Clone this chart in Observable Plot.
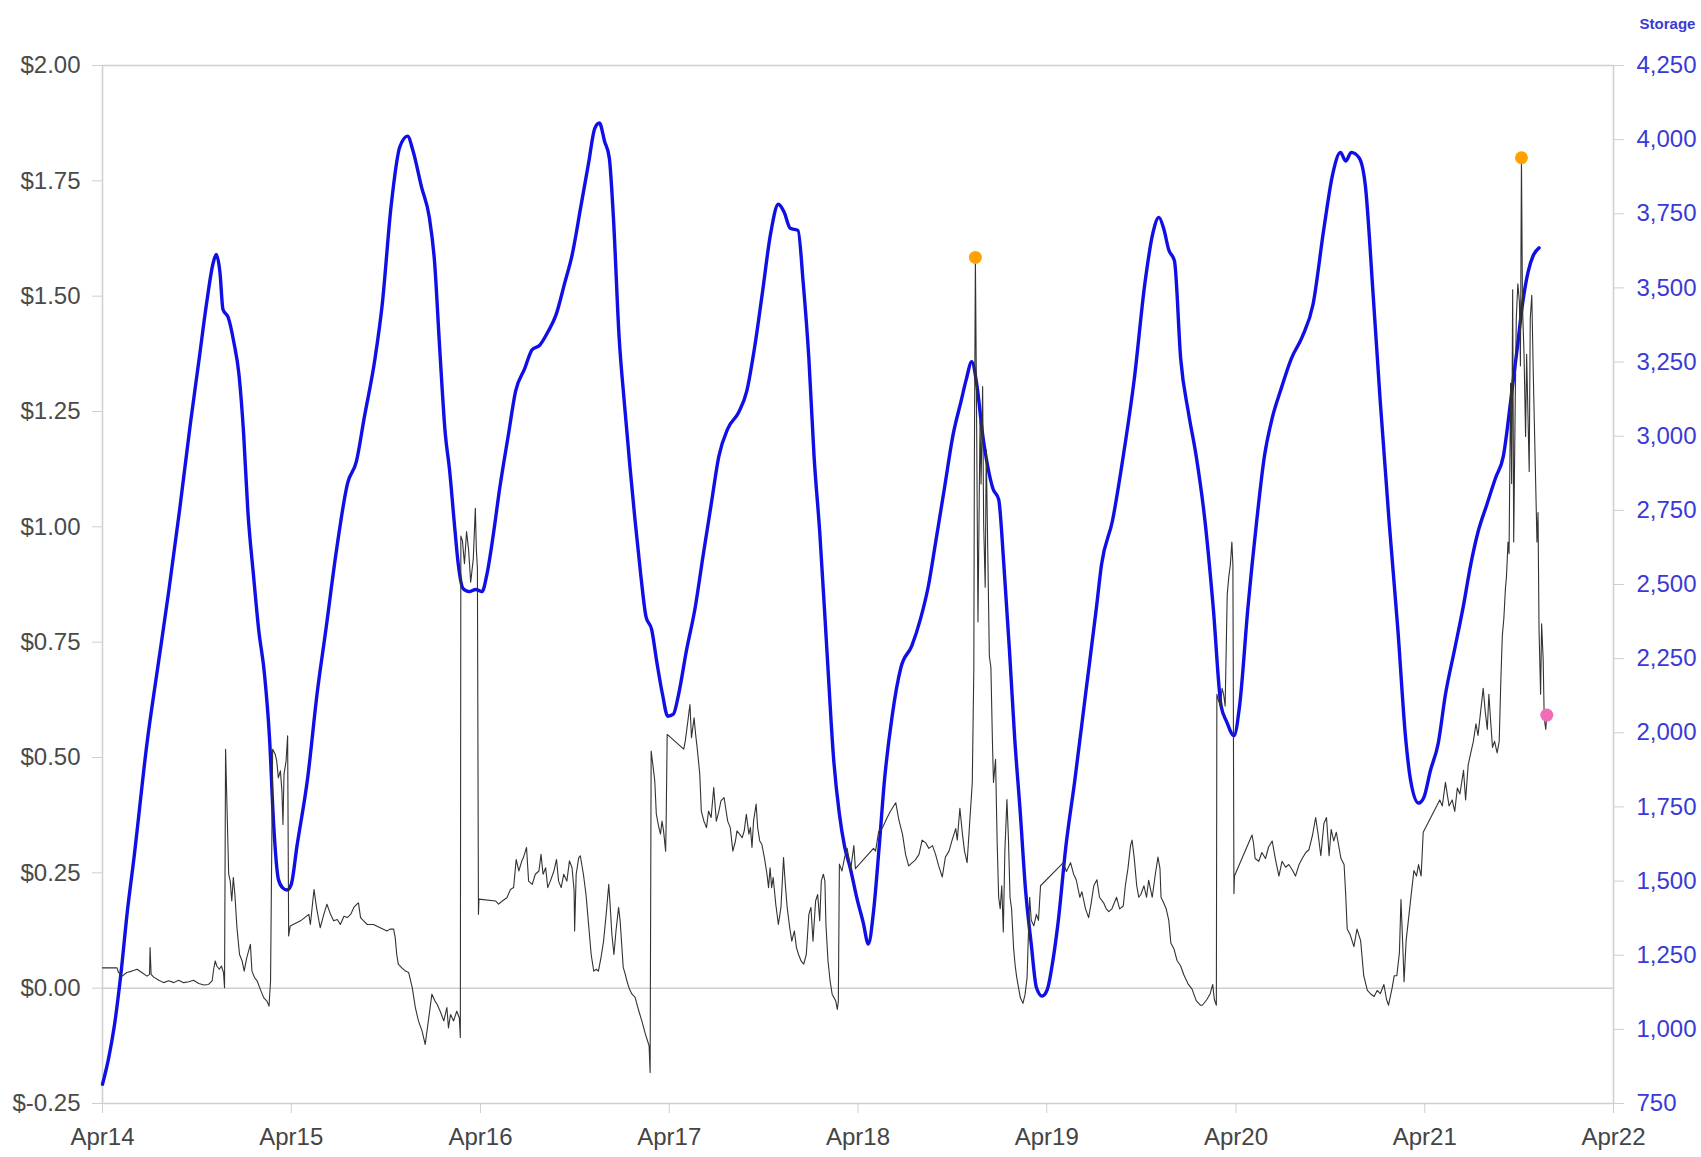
<!DOCTYPE html>
<html><head><meta charset="utf-8">
<script src="https://cdn.jsdelivr.net/npm/d3@7"></script>
<script src="https://cdn.jsdelivr.net/npm/@observablehq/plot@0.6"></script>
<style>body{margin:0;background:#fff;}#chart svg{display:block;}</style>
</head><body><div id="chart"></div>
<script>
// ---- data ----
const xTickDates = ["2014-04-01","2015-04-01","2016-04-01","2017-04-01","2018-04-01","2019-04-01","2020-04-01","2021-04-01","2022-04-01"];
const priceTicks = [-0.25,0,0.25,0.5,0.75,1,1.25,1.5,1.75,2];
const storageTicks = [750,1000,1250,1500,1750,2000,2250,2500,2750,3000,3250,3500,3750,4000,4250];
const priceDomain = [-0.25, 2];
const storageDomain = [750, 4250];
const storageTitle = "Storage";

const storageSeries = [["2014-04-01",815],["2014-04-13",904],["2014-04-24",1013],["2014-05-06",1178],["2014-05-19",1397],["2014-06-01",1580],["2014-06-26",1964],["2014-07-19",2246],["2014-08-07",2476],["2014-08-28",2750],["2014-09-18",3043],["2014-10-05",3262],["2014-10-19",3445],["2014-11-01",3584],["2014-11-07",3613],["2014-11-14",3555],["2014-11-20",3427],["2014-11-30",3401],["2014-12-11",3317],["2014-12-21",3207],["2014-12-30",3006],["2015-01-07",2750],["2015-01-18",2531],["2015-01-28",2348],["2015-02-08",2202],["2015-02-18",1982],["2015-02-26",1690],["2015-03-07",1507],["2015-03-15",1478],["2015-03-24",1470],["2015-04-01",1489],["2015-04-12",1617],["2015-05-03",1851],["2015-05-21",2132],["2015-06-07",2348],["2015-06-28",2622],["2015-07-19",2842],["2015-08-05",2915],["2015-08-20",3061],["2015-09-10",3262],["2015-09-24",3445],["2015-10-11",3774],["2015-10-28",3976],["2015-11-12",4012],["2015-11-22",3965],["2015-12-09",3840],["2015-12-24",3738],["2016-01-03",3591],["2016-01-13",3299],["2016-01-24",3006],["2016-02-01",2889],["2016-02-10",2714],["2016-02-18",2568],["2016-02-27",2487],["2016-03-10",2476],["2016-03-23",2483],["2016-04-04",2476],["2016-04-13",2531],["2016-04-25",2659],["2016-05-08",2823],["2016-05-25",3006],["2016-06-08",3153],["2016-06-25",3226],["2016-07-10",3292],["2016-07-24",3306],["2016-08-10",3354],["2016-08-25",3409],["2016-09-11",3518],["2016-09-25",3610],["2016-10-12",3774],["2016-10-27",3921],["2016-11-08",4038],["2016-11-17",4056],["2016-11-27",3994],["2016-12-06",3939],["2016-12-14",3738],["2016-12-25",3335],["2017-01-04",3116],["2017-01-15",2897],["2017-01-25",2714],["2017-02-05",2531],["2017-02-15",2392],["2017-02-26",2348],["2017-03-08",2238],["2017-03-19",2129],["2017-03-29",2056],["2017-04-09",2063],["2017-04-19",2129],["2017-05-04",2275],["2017-05-21",2421],["2017-06-06",2604],["2017-06-21",2769],["2017-07-06",2933],["2017-07-23",3025],["2017-08-13",3080],["2017-08-29",3153],["2017-09-13",3299],["2017-09-28",3482],["2017-10-14",3683],["2017-10-29",3782],["2017-11-09",3756],["2017-11-21",3701],["2017-12-06",3694],["2017-12-16",3518],["2017-12-27",3262],["2018-01-06",2933],["2018-01-17",2677],["2018-01-31",2275],["2018-02-13",1909],["2018-02-24",1726],["2018-03-06",1617],["2018-03-17",1544],["2018-03-31",1434],["2018-04-11",1361],["2018-04-21",1288],["2018-05-01",1397],["2018-05-12",1617],["2018-05-22",1836],["2018-06-06",2056],["2018-06-23",2220],["2018-07-14",2293],["2018-07-31",2385],["2018-08-15",2494],["2018-08-29",2641],["2018-09-15",2823],["2018-10-02",3006],["2018-10-17",3116],["2018-10-27",3189],["2018-11-07",3251],["2018-11-17",3171],["2018-11-28",3006],["2018-12-08",2897],["2018-12-18",2823],["2018-12-29",2787],["2019-01-08",2568],["2019-01-19",2275],["2019-01-29",1982],["2019-02-09",1726],["2019-02-19",1470],["2019-03-02",1288],["2019-03-12",1141],["2019-03-23",1112],["2019-04-02",1134],["2019-04-13",1233],["2019-04-23",1361],["2019-05-08",1617],["2019-05-25",1836],["2019-06-15",2129],["2019-07-06",2421],["2019-07-16",2568],["2019-08-06",2714],["2019-08-27",2933],["2019-09-17",3189],["2019-10-08",3518],["2019-10-23",3683],["2019-11-04",3738],["2019-11-13",3701],["2019-11-23",3628],["2019-12-04",3591],["2019-12-16",3262],["2019-12-31",3080],["2020-01-15",2933],["2020-02-01",2714],["2020-02-17",2421],["2020-03-03",2092],["2020-03-14",2037],["2020-03-28",1990],["2020-04-08",2092],["2020-04-24",2421],["2020-05-11",2714],["2020-05-26",2933],["2020-06-10",3061],["2020-06-26",3153],["2020-07-17",3262],["2020-08-07",3335],["2020-08-28",3445],["2020-09-18",3701],["2020-10-05",3884],["2020-10-20",3957],["2020-10-30",3928],["2020-11-10",3957],["2020-11-25",3939],["2020-12-07",3847],["2020-12-22",3482],["2021-01-05",3116],["2021-01-22",2714],["2021-02-08",2348],["2021-02-23",1982],["2021-03-05",1836],["2021-03-20",1763],["2021-03-30",1781],["2021-04-12",1873],["2021-04-27",1964],["2021-05-11",2129],["2021-05-28",2275],["2021-06-14",2421],["2021-06-29",2568],["2021-07-13",2677],["2021-07-30",2769],["2021-08-16",2860],["2021-08-31",2933],["2021-09-14",3116],["2021-09-27",3299],["2021-10-07",3445],["2021-10-18",3555],["2021-10-28",3610],["2021-11-08",3635]];

const spreadSeries = [["2014-04-01",0.044],["2014-04-29",0.044],["2014-05-02",0.034],["2014-05-09",0.026],["2014-05-18",0.034],["2014-05-28",0.037],["2014-06-07",0.041],["2014-06-16",0.034],["2014-06-26",0.026],["2014-07-01",0.030],["2014-07-02",0.088],["2014-07-04",0.030],["2014-07-09",0.024],["2014-07-19",0.017],["2014-07-28",0.012],["2014-08-07",0.016],["2014-08-17",0.012],["2014-08-26",0.017],["2014-09-05",0.012],["2014-09-15",0.014],["2014-09-24",0.017],["2014-10-04",0.010],["2014-10-14",0.007],["2014-10-23",0.008],["2014-10-30",0.016],["2014-11-02",0.041],["2014-11-05",0.059],["2014-11-08",0.048],["2014-11-13",0.041],["2014-11-17",0.048],["2014-11-21",0.034],["2014-11-23",0.001],["2014-11-25",0.518],["2014-12-01",0.247],["2014-12-04",0.232],["2014-12-07",0.189],["2014-12-10",0.240],["2014-12-13",0.203],["2014-12-17",0.131],["2014-12-22",0.073],["2014-12-27",0.059],["2014-12-31",0.037],["2015-01-05",0.066],["2015-01-12",0.095],["2015-01-15",0.037],["2015-01-20",0.023],["2015-01-25",0.016],["2015-01-31",-0.002],["2015-02-07",-0.021],["2015-02-13",-0.028],["2015-02-17",-0.039],["2015-02-20",0.016],["2015-02-24",0.518],["2015-03-01",0.507],["2015-03-04",0.492],["2015-03-07",0.456],["2015-03-11",0.471],["2015-03-14",0.427],["2015-03-16",0.355],["2015-03-18",0.464],["2015-03-22",0.492],["2015-03-25",0.547],["2015-03-27",0.113],["2015-03-30",0.135],["2015-04-19",0.146],["2015-05-05",0.160],["2015-05-08",0.138],["2015-05-15",0.214],["2015-05-20",0.174],["2015-05-27",0.131],["2015-06-03",0.160],["2015-06-09",0.182],["2015-06-16",0.160],["2015-06-22",0.146],["2015-06-29",0.149],["2015-07-05",0.138],["2015-07-12",0.156],["2015-07-18",0.153],["2015-07-25",0.160],["2015-07-31",0.175],["2015-08-06",0.182],["2015-08-09",0.185],["2015-08-13",0.153],["2015-08-19",0.146],["2015-08-26",0.138],["2015-09-07",0.138],["2015-09-20",0.131],["2015-10-03",0.124],["2015-10-09",0.128],["2015-10-16",0.128],["2015-10-19",0.110],["2015-10-22",0.073],["2015-10-25",0.052],["2015-11-01",0.044],["2015-11-08",0.037],["2015-11-14",0.034],["2015-11-21",0.001],["2015-11-27",-0.042],["2015-12-03",-0.071],["2015-12-10",-0.093],["2015-12-16",-0.122],["2015-12-23",-0.064],["2015-12-29",-0.013],["2016-01-04",-0.028],["2016-01-08",-0.035],["2016-01-14",-0.050],["2016-01-21",-0.071],["2016-01-27",-0.042],["2016-01-30",-0.086],["2016-02-03",-0.057],["2016-02-09",-0.071],["2016-02-15",-0.050],["2016-02-20",-0.064],["2016-02-22",-0.107],["2016-02-23",0.98],["2016-02-26",0.97],["2016-03-01",0.92],["2016-03-05",0.99],["2016-03-09",0.95],["2016-03-13",0.88],["2016-03-18",0.93],["2016-03-22",1.04],["2016-03-24",0.95],["2016-03-26",0.91],["2016-03-28",0.160],["2016-03-29",0.193],["2016-04-30",0.189],["2016-05-06",0.182],["2016-05-13",0.189],["2016-05-22",0.196],["2016-05-29",0.214],["2016-06-04",0.218],["2016-06-09",0.279],["2016-06-14",0.254],["2016-06-20",0.276],["2016-06-23",0.283],["2016-06-29",0.305],["2016-07-03",0.232],["2016-07-10",0.225],["2016-07-16",0.247],["2016-07-23",0.254],["2016-07-27",0.290],["2016-07-31",0.247],["2016-08-05",0.261],["2016-08-09",0.218],["2016-08-14",0.232],["2016-08-21",0.254],["2016-08-26",0.279],["2016-08-30",0.232],["2016-09-04",0.218],["2016-09-09",0.247],["2016-09-15",0.232],["2016-09-20",0.276],["2016-09-25",0.261],["2016-09-29",0.211],["2016-09-30",0.124],["2016-10-03",0.247],["2016-10-08",0.283],["2016-10-11",0.287],["2016-10-17",0.247],["2016-10-22",0.203],["2016-10-27",0.138],["2016-11-01",0.073],["2016-11-06",0.037],["2016-11-11",0.041],["2016-11-15",0.037],["2016-11-20",0.066],["2016-11-25",0.102],["2016-11-30",0.160],["2016-12-05",0.225],["2016-12-08",0.175],["2016-12-11",0.117],["2016-12-15",0.073],["2016-12-19",0.124],["2016-12-24",0.175],["2016-12-27",0.146],["2017-01-02",0.045],["2017-01-06",0.030],["2017-01-09",0.016],["2017-01-14",-0.002],["2017-01-19",-0.013],["2017-01-25",-0.020],["2017-02-01",-0.049],["2017-02-07",-0.071],["2017-02-14",-0.100],["2017-02-18",-0.114],["2017-02-21",-0.125],["2017-02-23",-0.183],["2017-02-25",0.514],["2017-03-01",0.478],["2017-03-04",0.449],["2017-03-07",0.377],["2017-03-12",0.348],["2017-03-15",0.334],["2017-03-18",0.362],["2017-03-21",0.341],["2017-03-25",0.297],["2017-03-26",0.359],["2017-03-28",0.550],["2017-04-29",0.518],["2017-05-02",0.536],["2017-05-07",0.579],["2017-05-11",0.615],["2017-05-14",0.543],["2017-05-19",0.586],["2017-05-22",0.550],["2017-05-25",0.521],["2017-05-30",0.464],["2017-06-02",0.384],["2017-06-07",0.362],["2017-06-12",0.348],["2017-06-16",0.384],["2017-06-21",0.370],["2017-06-26",0.435],["2017-07-01",0.362],["2017-07-06",0.384],["2017-07-10",0.406],["2017-07-16",0.413],["2017-07-19",0.391],["2017-07-23",0.362],["2017-07-28",0.348],["2017-08-02",0.297],["2017-08-07",0.319],["2017-08-10",0.341],["2017-08-15",0.334],["2017-08-20",0.326],["2017-08-24",0.341],["2017-08-28",0.377],["2017-09-02",0.334],["2017-09-05",0.348],["2017-09-08",0.305],["2017-09-11",0.362],["2017-09-16",0.399],["2017-09-19",0.348],["2017-09-23",0.319],["2017-09-27",0.312],["2017-10-02",0.283],["2017-10-07",0.247],["2017-10-10",0.218],["2017-10-13",0.261],["2017-10-16",0.218],["2017-10-19",0.240],["2017-10-24",0.182],["2017-10-29",0.138],["2017-11-03",0.175],["2017-11-08",0.283],["2017-11-11",0.232],["2017-11-15",0.175],["2017-11-20",0.131],["2017-11-24",0.102],["2017-11-29",0.124],["2017-12-03",0.088],["2017-12-07",0.073],["2017-12-12",0.059],["2017-12-17",0.052],["2017-12-22",0.073],["2017-12-27",0.160],["2017-12-31",0.175],["2018-01-04",0.102],["2018-01-09",0.189],["2018-01-13",0.203],["2018-01-17",0.146],["2018-01-20",0.232],["2018-01-24",0.247],["2018-01-27",0.232],["2018-01-29",0.138],["2018-02-02",0.059],["2018-02-06",0.016],["2018-02-10",-0.013],["2018-02-17",-0.028],["2018-02-20",-0.046],["2018-02-22",-0.028],["2018-02-24",0.269],["2018-03-01",0.254],["2018-03-06",0.283],["2018-03-11",0.303],["2018-03-18",0.259],["2018-03-24",0.309],["2018-03-27",0.259],["2018-05-01",0.303],["2018-05-05",0.297],["2018-05-11",0.340],["2018-05-18",0.347],["2018-05-28",0.371],["2018-06-03",0.384],["2018-06-13",0.402],["2018-06-19",0.365],["2018-06-26",0.334],["2018-07-02",0.290],["2018-07-08",0.265],["2018-07-15",0.272],["2018-07-21",0.278],["2018-07-28",0.290],["2018-08-03",0.321],["2018-08-10",0.315],["2018-08-16",0.303],["2018-08-23",0.309],["2018-08-29",0.290],["2018-09-04",0.265],["2018-09-11",0.241],["2018-09-17",0.284],["2018-09-24",0.297],["2018-09-30",0.321],["2018-10-07",0.346],["2018-10-10",0.321],["2018-10-15",0.390],["2018-10-20",0.334],["2018-10-24",0.297],["2018-10-29",0.272],["2018-11-03",0.359],["2018-11-08",0.446],["2018-11-11",0.695],["2018-11-12",1.130],["2018-11-14",1.584],["2018-11-16",1.292],["2018-11-19",0.794],["2018-11-23",1.230],["2018-11-25",1.093],["2018-11-28",1.304],["2018-11-30",1.006],["2018-12-03",0.869],["2018-12-05",1.167],["2018-12-08",0.944],["2018-12-11",0.720],["2018-12-14",0.695],["2018-12-17",0.533],["2018-12-19",0.446],["2018-12-23",0.496],["2018-12-26",0.321],["2018-12-29",0.197],["2019-01-01",0.172],["2019-01-04",0.222],["2019-01-07",0.122],["2019-01-10",0.297],["2019-01-14",0.409],["2019-01-17",0.321],["2019-01-20",0.197],["2019-01-23",0.172],["2019-01-27",0.085],["2019-01-30",0.048],["2019-02-02",0.023],["2019-02-09",-0.021],["2019-02-14",-0.033],["2019-02-18",-0.014],["2019-02-22",0.023],["2019-02-24",0.098],["2019-02-27",0.197],["2019-03-02",0.147],["2019-03-07",0.135],["2019-03-12",0.160],["2019-03-16",0.147],["2019-03-20",0.222],["2019-04-27",0.265],["2019-05-03",0.272],["2019-05-09",0.253],["2019-05-17",0.272],["2019-05-23",0.247],["2019-05-28",0.235],["2019-06-04",0.197],["2019-06-08",0.209],["2019-06-15",0.172],["2019-06-21",0.153],["2019-06-26",0.185],["2019-07-01",0.222],["2019-07-07",0.235],["2019-07-12",0.197],["2019-07-20",0.185],["2019-07-25",0.172],["2019-07-30",0.166],["2019-08-05",0.172],["2019-08-14",0.197],["2019-08-20",0.172],["2019-08-27",0.178],["2019-08-31",0.222],["2019-09-05",0.259],["2019-09-10",0.309],["2019-09-13",0.321],["2019-09-17",0.284],["2019-09-22",0.222],["2019-09-26",0.197],["2019-09-30",0.203],["2019-10-06",0.222],["2019-10-11",0.197],["2019-10-15",0.234],["2019-10-22",0.197],["2019-10-28",0.247],["2019-11-02",0.284],["2019-11-06",0.259],["2019-11-08",0.197],["2019-11-13",0.185],["2019-11-18",0.172],["2019-11-23",0.147],["2019-11-27",0.098],["2019-12-03",0.085],["2019-12-09",0.060],["2019-12-16",0.048],["2019-12-22",0.029],["2019-12-30",0.010],["2020-01-07",-0.002],["2020-01-15",-0.027],["2020-01-23",-0.037],["2020-01-27",-0.037],["2020-02-05",-0.024],["2020-02-11",-0.012],["2020-02-16",0.008],["2020-02-19",-0.024],["2020-02-23",-0.037],["2020-02-24",0.637],["2020-02-27",0.624],["2020-03-02",0.611],["2020-03-05",0.650],["2020-03-08",0.637],["2020-03-11",0.611],["2020-03-15",0.853],["2020-03-18",0.891],["2020-03-21",0.917],["2020-03-24",0.967],["2020-03-26",0.917],["2020-03-28",0.205],["2020-03-29",0.243],["2020-05-02",0.332],["2020-05-05",0.313],["2020-05-08",0.281],["2020-05-15",0.275],["2020-05-21",0.294],["2020-05-28",0.281],["2020-06-03",0.306],["2020-06-10",0.319],["2020-06-16",0.281],["2020-06-23",0.243],["2020-06-29",0.275],["2020-07-06",0.262],["2020-07-12",0.268],["2020-07-19",0.256],["2020-07-25",0.243],["2020-08-01",0.268],["2020-08-07",0.281],["2020-08-14",0.294],["2020-08-20",0.300],["2020-08-27",0.332],["2020-09-02",0.370],["2020-09-07",0.332],["2020-09-12",0.287],["2020-09-18",0.357],["2020-09-23",0.370],["2020-09-28",0.287],["2020-10-02",0.344],["2020-10-07",0.319],["2020-10-12",0.338],["2020-10-17",0.306],["2020-10-21",0.281],["2020-10-27",0.268],["2020-10-30",0.205],["2020-11-02",0.128],["2020-11-08",0.115],["2020-11-15",0.090],["2020-11-21",0.128],["2020-11-28",0.103],["2020-12-04",0.027],["2020-12-11",-0.005],["2020-12-17",-0.012],["2020-12-24",-0.018],["2020-12-30",-0.005],["2021-01-05",-0.012],["2021-01-12",0.008],["2021-01-17",-0.024],["2021-01-21",-0.037],["2021-01-28",0.001],["2021-02-01",0.027],["2021-02-06",0.027],["2021-02-11",0.077],["2021-02-14",0.192],["2021-02-18",0.077],["2021-02-20",0.014],["2021-02-24",0.103],["2021-03-01",0.154],["2021-03-06",0.205],["2021-03-11",0.255],["2021-03-16",0.243],["2021-03-20",0.268],["2021-03-25",0.243],["2021-03-29",0.338],["2021-04-30",0.408],["2021-05-05",0.395],["2021-05-11",0.446],["2021-05-18",0.395],["2021-05-24",0.408],["2021-05-29",0.383],["2021-06-03",0.434],["2021-06-08",0.421],["2021-06-15",0.472],["2021-06-19",0.408],["2021-06-24",0.484],["2021-06-29",0.510],["2021-07-04",0.535],["2021-07-09",0.573],["2021-07-13",0.548],["2021-07-18",0.599],["2021-07-23",0.650],["2021-07-27",0.599],["2021-07-31",0.561],["2021-08-03",0.637],["2021-08-06",0.586],["2021-08-10",0.522],["2021-08-14",0.535],["2021-08-19",0.510],["2021-08-23",0.535],["2021-08-26",0.662],["2021-08-29",0.764],["2021-09-01",0.802],["2021-09-04",0.866],["2021-09-06",0.891],["2021-09-09",0.967],["2021-09-11",0.942],["2021-09-14",1.311],["2021-09-16",1.094],["2021-09-18",1.514],["2021-09-20",0.967],["2021-09-23",1.273],["2021-09-25",1.451],["2021-09-28",1.527],["2021-10-01",1.489],["2021-10-03",1.349],["2021-10-05",1.800],["2021-10-07",1.476],["2021-10-10",1.374],["2021-10-13",1.196],["2021-10-15",1.374],["2021-10-17",1.273],["2021-10-20",1.120],["2021-10-22",1.451],["2021-10-25",1.502],["2021-10-28",1.324],["2021-10-30",1.222],["2021-11-02",1.069],["2021-11-04",0.967],["2021-11-06",1.031],["2021-11-08",0.777],["2021-11-11",0.637],["2021-11-13",0.790],["2021-11-16",0.713],["2021-11-18",0.586],["2021-11-21",0.561],["2021-11-23",0.592]];

const spikeDates = ["2018-11-14","2021-10-05"];
const spikeValues = [1.584, 1.800];

// ---- helpers ----
const parse = d3.utcParse("%Y-%m-%d");
const toPrice = s => priceDomain[0] + (s - storageDomain[0]) / (storageDomain[1] - storageDomain[0]) * (priceDomain[1] - priceDomain[0]);
const fromPrice = p => storageDomain[0] + (p - priceDomain[0]) / (priceDomain[1] - priceDomain[0]) * (storageDomain[1] - storageDomain[0]);
const storage = storageSeries.map(([d, v]) => ({date: parse(d), value: v}));
const spread = spreadSeries.map(([d, v]) => ({date: parse(d), value: v}));
const spikes = spikeDates.map((d, i) => ({date: parse(d), value: spikeValues[i]}));
const last = spread[spread.length - 1];
const xDomain = [parse(xTickDates[0]), parse(xTickDates[xTickDates.length - 1])];

const gridColor = "#cfcfcf";
const blue = "#1010e6";
const axisBlue = "#3a3ad6";

const chart = Plot.plot({
  width: 1701,
  height: 1157,
  marginTop: 65,
  marginBottom: 54,
  marginLeft: 102,
  marginRight: 88,
  style: {fontFamily: "'Liberation Sans', Arial, Helvetica, sans-serif", fontSize: "24px", background: "#fff", color: "#444"},
  x: {type: "utc", domain: xDomain},
  y: {domain: priceDomain},
  marks: [
    Plot.ruleY([0], {stroke: gridColor, strokeWidth: 1.5}),
    Plot.ruleY(priceDomain, {stroke: gridColor, strokeWidth: 1.5}),
    Plot.ruleX(xDomain, {stroke: gridColor, strokeWidth: 1.5}),
    Plot.axisX(xTickDates.map(parse), {tickFormat: d3.utcFormat("%b%y"), tickSize: 10, tickPadding: 14, stroke: gridColor, fill: "#444", label: null}),
    Plot.axisY(priceTicks, {tickFormat: d => "$" + d.toFixed(2), tickSize: 10, tickPadding: 12, stroke: gridColor, fill: "#4a4a4a", label: null}),
    Plot.axisY(storageTicks.map(toPrice), {anchor: "right", tickFormat: p => d3.format(",")(Math.round(fromPrice(p))), tickSize: 10, tickPadding: 13, stroke: gridColor, fill: axisBlue, label: null}),
    Plot.line(storage, {x: "date", y: d => toPrice(d.value), stroke: blue, strokeWidth: 3.4, curve: "monotone-x"}),
    Plot.line(spread, {x: "date", y: "value", stroke: "#333", strokeWidth: 1.1}),
    Plot.dot(spikes, {x: "date", y: "value", r: 6.5, fill: "#ffa200", stroke: "none"}),
    Plot.dot([last], {x: "date", y: "value", r: 6.5, fill: "#f06db5", stroke: "none"}),
    Plot.text([storageTitle], {frameAnchor: "top-right", dx: 54, dy: -47, text: d => d, fill: axisBlue, fontSize: 15, fontWeight: "bold", textAnchor: "middle"})
  ]
});
document.getElementById("chart").appendChild(chart);
</script>
</body></html>
